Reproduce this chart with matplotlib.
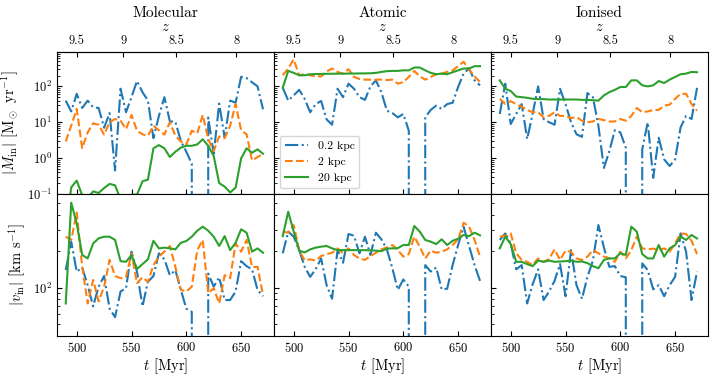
import numpy as np
import matplotlib
matplotlib.use("Agg")
import matplotlib.pyplot as plt

plt.rcParams['font.family'] = 'serif'
plt.rcParams['font.serif'] = ['cmr10', 'DejaVu Serif']
plt.rcParams['mathtext.fontset'] = 'cm'
plt.rcParams['axes.formatter.use_mathtext'] = True
plt.rcParams['axes.unicode_minus'] = False

# ---------------- data ----------------
t = [490, 495, 500, 505, 510, 515, 520, 525, 530, 535, 540, 545, 550, 555, 560, 565,
     570, 575, 580, 585, 590, 595, 600, 605, 610, 615, 620, 625, 630, 635, 640, 645,
     650, 655, 660, 665, 670]

phases = ["Molecular", "Atomic", "Ionised"]
radii_labels = ["0.2 kpc", "2 kpc", "20 kpc"]

# inflow rate |Mdot_in| [Msun/yr]
mdot_mol_02 = [40, 20, 62, 25, 40, 26, 25, 7, 18, 0.45, 86, 19, 50, 141, 69, 40, 3.6, 15, 50, 10.5,
               10.3, 3.0, 1.5, 0.7, 0, 0, 13.5, 1.3, 33, 3.7, 40, 35, 185, 170, 130, 100, 23]
mdot_mol_2 = [2.9, 8, 23.5, 1.9, 5.2, 9.3, 8.5, 4.5, 10, 12.3, 11, 6.4, 16, 5.8, 4.6, 4.2, 8, 6, 4.5, 10,
              4.2, 2.9, 2.4, 5.8, 4.9, 16, 3.4, 1.57, 4, 3.6, 8, 32, 6, 4.6, 0.86, 1.07, 1.3]
mdot_mol_20 = [0.01, 0.152, 0.235, 0.091, 0.077, 0.118, 0.106, 0.146, 0.19, 0.174, 0.07, 0.06, 0.095,
               0.095, 0.225, 0.25, 1.87, 2.3, 1.87, 1.07, 1.5, 1.95, 2.2, 2.2, 2.4, 3.35, 2.2, 1.14,
               0.2, 0.16, 0.11, 0.15, 0.98, 1.87, 1.41, 1.75, 1.32]

mdot_ato_02 = [92, 40, 56, 80, 45, 19, 32, 39, 12, 8.5, 86, 50, 119, 86, 50, 42, 100, 147, 69, 21,
               18, 13.7, 17, 5.8, 0, 0, 13.7, 22, 29, 23.5, 32, 35, 96, 228, 315, 147, 107]
mdot_ato_2 = [204, 315, 565, 204, 218, 204, 190, 190, 260, 315, 253, 227, 302, 183, 161, 154, 154, 154,
              154, 150, 154, 119, 132, 183, 270, 190, 154, 183, 218, 227, 253, 280, 366, 487, 293, 190, 132]
mdot_ato_20 = [92, 270, 238, 204, 204, 218, 220, 222, 224, 225, 226, 226, 228, 228, 230, 230, 232, 238,
               253, 265, 270, 270, 280, 280, 335, 335, 280, 238, 218, 227, 218, 248, 280, 315, 315, 366, 366]

mdot_ion_02 = [17, 119, 8.9, 17, 32, 3.4, 17, 100, 12.3, 10, 8.5, 86, 32, 10, 4.6, 3.9, 65, 50, 8, 0.53,
               1.57, 6, 5.2, 1.95, 0, 0, 1.75, 9.9, 0.28, 3.7, 0.92, 0.6, 0.92, 7.2, 15, 12.3, 91]
mdot_ion_2 = [45, 32.4, 38.6, 32, 27, 22, 19, 19, 13.7, 15, 19, 15, 15, 13, 14, 11, 10, 10.5, 12.3, 11.5,
              10.5, 10.5, 12.3, 11, 15, 25, 19, 20, 22, 22, 29, 31, 45, 62, 62, 32, 21]
mdot_ion_20 = [147, 86, 74, 52, 50, 48, 45, 44, 44, 43, 43, 43, 43, 43, 43, 42, 42, 41, 40, 56,
               69, 80, 96, 96, 147, 147, 107, 100, 107, 141, 124, 154, 183, 218, 227, 253, 248]

# inflow velocity |v_in| [km/s]
v_mol_02 = [140, 241, 136, 147, 105, 70, 102, 125, 67, 57, 93, 99, 199, 136, 70, 112, 125, 193, 172, 127,
            140, 96, 67, 63, 0, 0, 131, 102, 122, 79, 79, 93, 166, 151, 142, 96, 85]
v_mol_2 = [265, 249, 419, 149, 74, 116, 77, 102, 170, 125, 120, 122, 193, 109, 122, 112, 154, 181, 199, 222,
           149, 96, 93, 102, 205, 249, 90, 99, 74, 127, 120, 233, 199, 249, 148, 149, 87]
v_mol_20 = [74, 507, 342, 187, 175, 233, 257, 265, 265, 249, 166, 164, 187, 143, 157, 172, 245, 212, 215, 212,
            208, 236, 244, 265, 297, 321, 297, 265, 222, 268, 205, 236, 305, 286, 199, 212, 195]

v_ato_02 = [193, 292, 265, 205, 149, 123, 142, 175, 105, 81, 205, 161, 279, 270, 193, 265, 187, 286, 252, 208,
            145, 96, 117, 102, 0, 0, 154, 136, 147, 97, 98, 154, 226, 321, 222, 154, 114]
v_ato_2 = [292, 286, 331, 205, 168, 172, 168, 183, 190, 195, 212, 193, 212, 187, 175, 170, 183, 195, 208, 216,
           226, 205, 181, 190, 265, 219, 175, 203, 195, 199, 208, 226, 252, 346, 321, 249, 181]
v_ato_20 = [268, 427, 292, 203, 196, 208, 215, 219, 222, 212, 205, 205, 205, 205, 205, 205, 204, 203, 201, 211,
            212, 213, 226, 226, 325, 292, 249, 241, 230, 252, 226, 245, 255, 274, 268, 286, 272]

v_ion_02 = [249, 282, 233, 142, 154, 74, 107, 142, 79, 93, 114, 157, 85, 205, 105, 81, 123, 168, 331, 216,
            149, 151, 125, 122, 0, 0, 159, 140, 97, 105, 85, 105, 123, 282, 199, 79, 136]
v_ion_2 = [265, 270, 282, 193, 170, 164, 154, 175, 164, 173, 208, 170, 203, 199, 175, 170, 181, 205, 193, 181,
           175, 164, 199, 175, 205, 265, 212, 208, 211, 205, 212, 199, 233, 282, 279, 245, 190]
v_ion_20 = [212, 265, 230, 164, 164, 157, 151, 168, 164, 168, 164, 165, 166, 168, 164, 165, 160, 151, 145, 170,
            175, 175, 193, 187, 321, 292, 190, 175, 175, 226, 181, 212, 226, 265, 249, 274, 256]

z_ticks = [9.5, 9.0, 8.5, 8.0]
z_ticklabels = ["9.5", "9", "8.5", "8"]

mdot = [[mdot_mol_02, mdot_mol_2, mdot_mol_20],
        [mdot_ato_02, mdot_ato_2, mdot_ato_20],
        [mdot_ion_02, mdot_ion_2, mdot_ion_20]]
vin = [[v_mol_02, v_mol_2, v_mol_20],
       [v_ato_02, v_ato_2, v_ato_20],
       [v_ion_02, v_ion_2, v_ion_20]]

# ---------------- cosmic time <-> redshift ----------------
A_T, B_T = 19037.0, -59.6


def t2z(tt):
    tt = np.asarray(tt, dtype=float)
    x = np.clip(tt - B_T, 1e-3, None)
    return (x / A_T) ** (-2.0 / 3.0) - 1.0


def z2t(zz):
    zz = np.asarray(zz, dtype=float)
    return A_T * np.clip(1.0 + zz, 1e-3, None) ** (-1.5) + B_T


styles = [dict(color='C0', ls='-.'), dict(color='C1', ls='--'), dict(color='C2', ls='-')]

fig, axes = plt.subplots(2, 3, figsize=(7.14, 3.78), dpi=100, sharex=True, sharey='row')
fig.subplots_adjust(left=0.0798, right=0.9916, top=0.862, bottom=0.112, wspace=0, hspace=0)

for j in range(3):
    axt, axb = axes[0, j], axes[1, j]
    for k in range(3):
        axt.plot(t, mdot[j][k], lw=1.5, label=radii_labels[k], **styles[k])
        axb.plot(t, vin[j][k], lw=1.5, label=radii_labels[k], **styles[k])
    for ax in (axt, axb):
        ax.set_yscale('log')
        ax.tick_params(which='both', direction='in', labelsize=9)
    sec = axt.secondary_xaxis('top', functions=(t2z, z2t))
    sec.set_xticks(z_ticks, labels=z_ticklabels)
    sec.tick_params(direction='in', labelsize=9)
    sec.set_xlabel('$z$', fontsize=10.5, labelpad=3)
    axb.set_xlabel('$t$ [Myr]', fontsize=10.5, labelpad=1)
    bb = axt.get_position()
    fig.text((bb.x0 + bb.x1) / 2, 0.966, phases[j], ha='center', va='center', fontsize=11)

axes[0, 0].set_xlim(482, 680)
axes[0, 0].set_ylim(0.1, 900)
axes[1, 0].set_ylim(40, 600)
axes[0, 0].set_xticks([500, 550, 600, 650])

axes[0, 0].set_ylabel(r'$|\dot{M}_{\rm in}|$ [M$_\odot$ yr$^{-1}$]', fontsize=10.5)
axes[1, 0].set_ylabel(r'$|v_{\rm in}|$ [km s$^{-1}$]', fontsize=10.5)

axes[0, 1].legend(loc='lower left', fontsize=8.5)

fig.savefig('out.png', dpi=100)
